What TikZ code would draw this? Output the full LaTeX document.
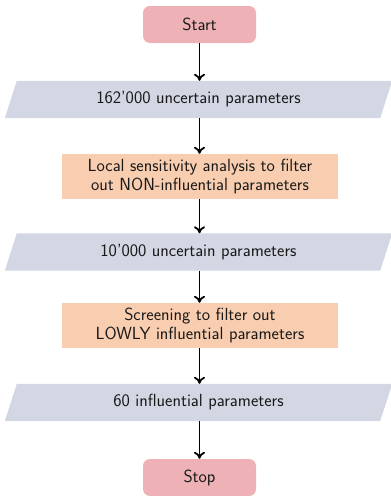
\documentclass[tikz,border=0pt]{standalone}
\usepackage{fontspec}
\usetikzlibrary{backgrounds,arrows.meta}
\definecolor{startfill}{RGB}{238,178,182}
\definecolor{parafill}{RGB}{211,215,228}
\definecolor{procfill}{RGB}{249,206,176}
\begin{document}
\begin{tikzpicture}[x=1pt,y=1pt,
  every node/.style={font=\sffamily\fontsize{17.6}{18.3}\selectfont, text=black!90, inner sep=0pt, align=center},
  term/.style={rectangle, rounded corners=7pt, fill=startfill, minimum width=113pt, minimum height=37pt},
  iobox/.style={rectangle, minimum width=375pt, minimum height=37pt},
  proc/.style={rectangle, fill=procfill, minimum width=276pt, minimum height=45pt},
  flow/.style={-{Computer Modern Rightarrow[length=7pt,width=11pt]}, line width=1.8pt}]
\useasboundingbox (0,0) rectangle (391,-496);
\node[term] (start) at (199.5,-24.5) {Start};
\node[iobox] (p1) at (198.5,-99.5) {162'000 uncertain parameters};
\node[proc] (b1) at (200,-176.5) {Local sensitivity analysis to filter\\out NON-influential parameters};
\node[iobox] (p2) at (198.5,-252) {10'000 uncertain parameters};
\node[proc] (b2) at (200,-325.5) {Screening to filter out\\LOWLY influential parameters};
\node[iobox] (p3) at (198.5,-402.5) {60 influential parameters};
\node[term] (stop) at (199.5,-477.5) {Stop};
\begin{scope}[on background layer]
\foreach \p in {p1,p2,p3}{
  \fill[parafill] ([xshift=-6pt]\p.south west) -- ([xshift=6pt]\p.north west) -- ([xshift=6pt]\p.north east) -- ([xshift=-6pt]\p.south east) -- cycle;
}
\end{scope}
\draw[flow] (start.south) -- (start.south |- p1.north);
\draw[flow] (start.south |- p1.south) -- (start.south |- b1.north);
\draw[flow] (start.south |- b1.south) -- (start.south |- p2.north);
\draw[flow] (start.south |- p2.south) -- (start.south |- b2.north);
\draw[flow] (start.south |- b2.south) -- (start.south |- p3.north);
\draw[flow] (start.south |- p3.south) -- (stop.north);
\end{tikzpicture}
\end{document}
